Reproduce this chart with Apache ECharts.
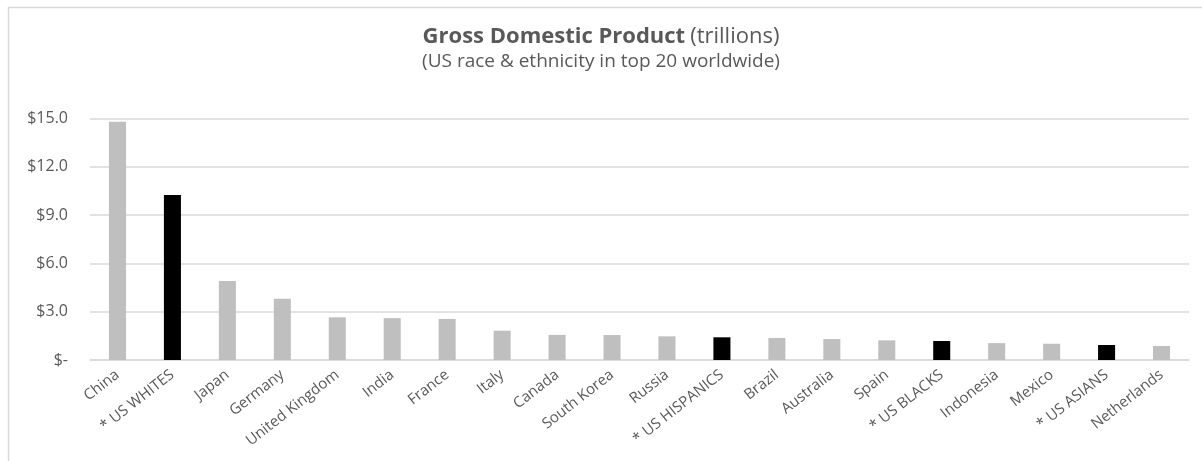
<!DOCTYPE html>
<html>
<head>
<meta charset="utf-8">
<script src="https://cdn.jsdelivr.net/npm/echarts@6/dist/echarts.min.js"></script>
<style>
html,body{margin:0;padding:0;background:#fff;}
#c{width:1202px;height:461px;}
</style>
</head>
<body>
<div id="c"></div>
<script>
const categories = ['China','* US WHITES','Japan','Germany','United Kingdom','India','France','Italy','Canada','South Korea','Russia','* US HISPANICS','Brazil','Australia','Spain','* US BLACKS','Indonesia','Mexico','* US ASIANS','Netherlands'];
const gdpValues = [14.8, 10.25, 4.9, 3.8, 2.65, 2.6, 2.55, 1.82, 1.56, 1.55, 1.47, 1.41, 1.37, 1.30, 1.22, 1.18, 1.05, 1.01, 0.93, 0.87];
const yTicks = [0, 3, 6, 9, 12, 15];

const FONT = '"Open Sans", "Liberation Sans", Arial, sans-serif';
const chart = echarts.init(document.getElementById('c'), null, {renderer: 'canvas'});
chart.setOption({
  animation: false,
  backgroundColor: '#fff',
  graphic: [{
    type: 'rect', left: 6, top: 5, shape: {width: 1300, height: 600},
    style: {fill: 'none', stroke: '#d9d9d9', lineWidth: 1.5}, silent: true, z: -1
  }],
  title: {
    left: 'center', top: 21, itemGap: 4,
    text: '{b|Gross Domestic Product} {n|(trillions)}',
    textStyle: {
      rich: {
        b: {fontFamily: FONT, fontSize: 22, fontWeight: 'bold', color: '#595959'},
        n: {fontFamily: FONT, fontSize: 22, fontWeight: 'normal', color: '#595959'}
      }
    },
    subtext: '(US race & ethnicity in top 20 worldwide)',
    subtextStyle: {fontFamily: FONT, fontSize: 19, color: '#595959'}
  },
  grid: {left: 90, right: 13, top: 118.5, bottom: 101, containLabel: false},
  xAxis: {
    type: 'category', data: categories,
    axisLine: {lineStyle: {color: '#d9d9d9', width: 1.5}},
    axisTick: {show: false},
    axisLabel: {interval: 0, rotate: 38, margin: 13, color: '#595959', fontFamily: FONT, fontSize: 15}
  },
  yAxis: {
    type: 'value', min: 0, max: 15, interval: 3,
    axisLine: {show: false}, axisTick: {show: false},
    splitLine: {lineStyle: {color: '#d9d9d9', width: 1.5}},
    axisLabel: {
      margin: 22, color: '#595959', fontFamily: FONT, fontSize: 16,
      formatter: v => yTicks.includes(v) ? (v === 0 ? '$-' : '$' + v.toFixed(1)) : ''
    }
  },
  series: [{
    type: 'bar', barWidth: '31%',
    data: gdpValues.map((v, i) => ({
      value: v,
      itemStyle: {color: categories[i].startsWith('*') ? '#000000' : '#bfbfbf'}
    }))
  }]
});
</script>
</body>
</html>
